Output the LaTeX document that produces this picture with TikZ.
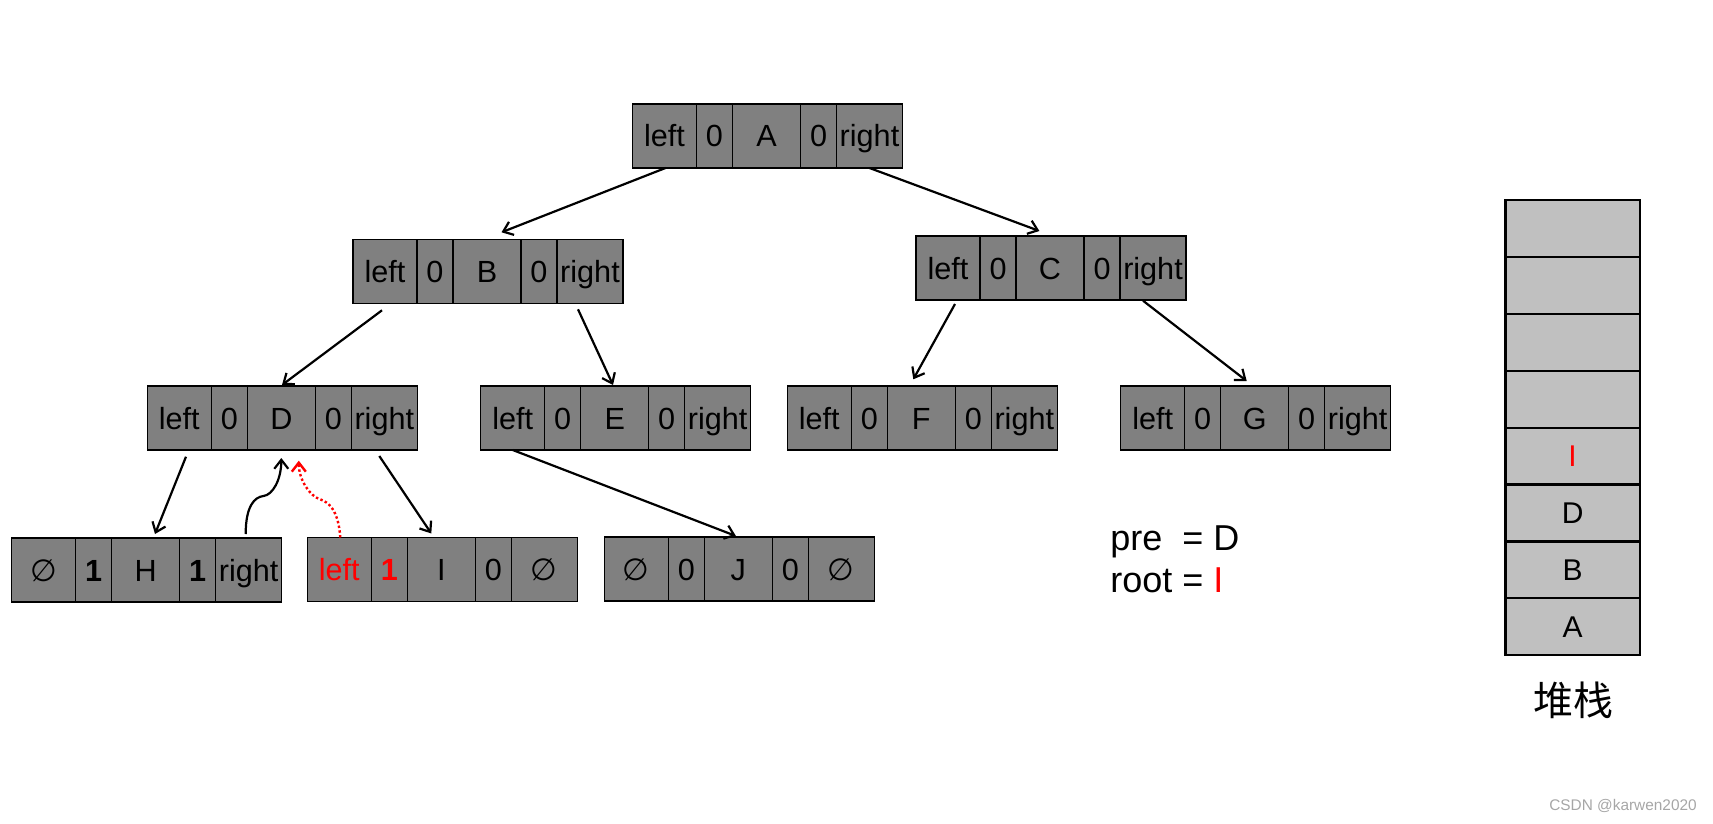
\documentclass[tikz,border=0pt]{standalone}
\usepackage{fontspec}
\setmainfont{Liberation Sans}
\newfontfamily\symfont{DejaVu Sans}
\newfontfamily\cjk{Noto Sans CJK SC}
\usetikzlibrary{calc,arrows.meta}
\definecolor{cellgray}{HTML}{808080}
\definecolor{stackgray}{HTML}{C0C0C0}
\newcommand\nil{{\symfont ∅}}
\tikzset{
  cell/.style={draw=black, fill=cellgray, line width=0.6pt, minimum height=32pt,
    inner sep=0pt, outer sep=0pt, font=\fontsize{15.3pt}{18pt}\selectfont,
    text height=11pt, text depth=0pt, anchor=west},
  wa/.style={cell, minimum width=32pt},
  wb/.style={cell, minimum width=18pt},
  wc/.style={cell, minimum width=34pt},
  stk/.style={draw=black, fill=stackgray, line width=1.1pt, minimum width=67.15pt,
    minimum height=28.45pt, inner sep=0pt, outer sep=0pt,
    font=\fontsize{15pt}{18pt}\selectfont, text height=10.7pt, text depth=0pt},
  arr/.style={-{Straight Barb[length=4.5pt,width=7pt]}, line width=1.1pt, black},
  redarr/.style={arr, red, line width=1.2pt, dash pattern=on 1.2pt off 1.2pt},
}
\newcommand\recnode[7]{%
  \node[wa] (#1-1) at #2 {#3};
  \node[wb] (#1-2) at (#1-1.east) {#4};
  \node[wc] (#1-3) at (#1-2.east) {#5};
  \node[wb] (#1-4) at (#1-3.east) {#6};
  \node[cell, minimum width=33pt] (#1-5) at (#1-4.east) {#7};
}
\begin{document}
\begin{tikzpicture}[x=0.5pt, y=-0.5pt]
\useasboundingbox (0,0) rectangle (1713,824);

\recnode{A}{(632.5,136)}{left}{0}{A}{0}{right}
\recnode{B}{(353,271.3)}{left}{0}{B}{0}{right}
\recnode{C}{(916,268)}{left}{0}{C}{0}{right}
\recnode{D}{(147.3,418)}{left}{0}{D}{0}{right}
\recnode{E}{(480.7,418)}{left}{0}{E}{0}{right}
\recnode{F}{(787.3,418)}{left}{0}{F}{0}{right}
\recnode{G}{(1120.7,418)}{left}{0}{G}{0}{right}
\recnode{H}{(11.7,570)}{\nil}{\textbf{1}}{H}{\textbf{1}}{right}
\recnode{I}{(307.3,569.5)}{\color{red}left}{\color{red}\textbf{1}}{I}{0}{\nil}
\recnode{J}{(604.3,569)}{\nil}{0}{J}{0}{\nil}

% tree arrows
\draw[arr] ($(A-1.south)+(1,0)$) -- ($(B-3.north)+(14.5,-7)$);
\draw[arr] (A-5.south) -- ($(C-3.north)+(-10.6,-5)$);
\draw[arr] ($(B-1.south)+(-3,7)$) -- ($(D-3.north)+(0.7,-1)$);
\draw[arr] ($(B-5.south)+(-12,6)$) -- ($(E-3.north)+(-1.7,-1)$);
\draw[arr] ($(C-1.south)+(7,4)$) -- ($(F-3.north)+(-8,-6.7)$);
\draw[arr] ($(C-5.south)+(-10,0.7)$) -- ($(G-3.north)+(-8,-5)$);
\draw[arr] ($(D-1.south)+(6.7,6.7)$) -- ($(H-3.north)+(9.3,-4)$);
\draw[arr] ($(D-5.south)+(-5,6)$) -- ($(I-3.north)+(-10,-4)$);
\draw[arr] (E-1.south) -- ($(J-3.north)+(-2.4,-1)$);

% thread H -> D
\coordinate (hs) at ($(H-5.north)+(-3,-4)$);
\coordinate (ht) at ($(D-3.south)+(0,8)$);
\coordinate (hm) at ($(hs)!0.5!(ht)$);
\draw[arr] (hs) .. controls +(0,-28) and +(-9,1) .. (hm)
               .. controls +(9,-1) and +(0,22) .. (ht);

% red dotted I -> D
\coordinate (rs) at ($(I-1.north)+(1,0)$);
\coordinate (rt) at ($(D-3.south)+(17.5,10.7)$);
\coordinate (rm) at ($(rs)!0.5!(rt)$);
\draw[redarr] (rs) .. controls +(-2,-28) and +(9,3) .. (rm)
              .. controls +(-9,-3) and +(0,20) .. (rt);

% pre / root
\node[anchor=west, align=left, inner sep=0pt,
      font=\fontsize{18pt}{20.8pt}\selectfont] (vars) at (1110,559)
  {pre\ \ = D\\root = {\color{red}I}};

% stack
\node[stk] (s1) at (1572.6,228.45) {};
\node[stk, anchor=north] (s2) at (s1.south) {};
\node[stk, anchor=north] (s3) at (s2.south) {};
\node[stk, anchor=north] (s4) at (s3.south) {};
\node[stk, anchor=north] (s5) at (s4.south) {\color{red}I};
\node[stk, anchor=north] (s6) at (s5.south) {D};
\node[stk, anchor=north] (s7) at (s6.south) {B};
\node[stk, anchor=north] (s8) at (s7.south) {A};
\node[font=\cjk\fontsize{20pt}{24pt}\selectfont] (stlabel) at (1573,700) {堆栈};

% watermark
\node[font=\fontsize{7.7pt}{9pt}\selectfont, text=black!35] (wm) at (1623,806) {CSDN @karwen2020};
\end{tikzpicture}
\end{document}
